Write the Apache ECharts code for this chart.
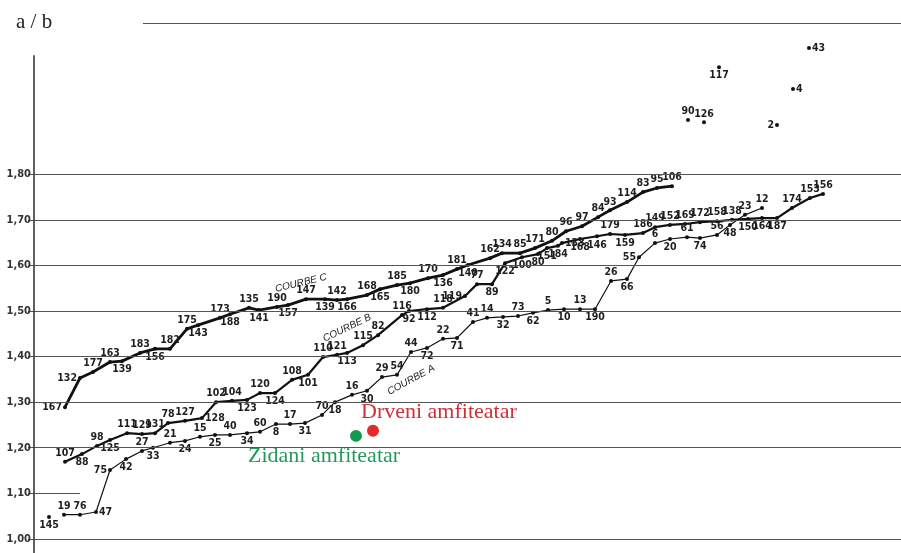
<!DOCTYPE html>
<html>
<head>
<meta charset="utf-8">
<title>a / b</title>
<script src="https://cdn.jsdelivr.net/npm/echarts@6/dist/echarts.min.js"></script>
<style>
  html, body { margin: 0; padding: 0; background: #fff; }
  #chart { width: 901px; height: 553px; }
</style>
</head>
<body>
<div id="chart"></div>
<script>
// each point: [number, position along x, a/b]
const curveA = [
  [19, 64, 1.053], [76, 80, 1.053], [47, 96, 1.059], [75, 110, 1.151], [42, 126, 1.175],
  [27, 142, 1.193], [33, 153, 1.200], [21, 170, 1.211], [24, 185, 1.215], [15, 200, 1.224],
  [25, 215, 1.228], [40, 230, 1.228], [34, 247, 1.232], [60, 260, 1.235], [8, 276, 1.252],
  [17, 290, 1.252], [31, 305, 1.254], [70, 322, 1.272], [18, 335, 1.300], [16, 352, 1.316],
  [30, 367, 1.325], [29, 382, 1.355], [54, 397, 1.360], [44, 411, 1.410], [72, 427, 1.419],
  [22, 443, 1.439], [71, 457, 1.441], [41, 473, 1.476], [14, 487, 1.485], [32, 503, 1.487],
  [73, 518, 1.489], [62, 533, 1.496], [5, 548, 1.502], [10, 564, 1.504], [13, 580, 1.504],
  [190, 595, 1.504], [26, 611, 1.566], [66, 627, 1.570], [55, 639, 1.618], [6, 655, 1.649],
  [20, 670, 1.658], [61, 687, 1.662], [74, 700, 1.660], [56, 717, 1.667], [48, 730, 1.689],
  [23, 745, 1.711], [12, 762, 1.726]
];
const curveASides = 'ttrlb tbtbt btbtb tbtbt btttb tbttb tbtbt btblt btbtb tt';

const curveB = [
  [107, 65, 1.169], [88, 82, 1.186], [98, 97, 1.204], [125, 110, 1.217], [111, 127, 1.232],
  [129, 142, 1.230], [131, 155, 1.232], [78, 168, 1.254], [127, 185, 1.259], [128, 202, 1.265],
  [102, 216, 1.300], [104, 232, 1.303], [123, 247, 1.305], [120, 260, 1.320], [124, 275, 1.320],
  [108, 292, 1.349], [101, 308, 1.360], [110, 323, 1.399], [121, 337, 1.404], [113, 347, 1.408],
  [115, 363, 1.425], [82, 378, 1.447], [116, 402, 1.491], [92, 409, 1.500], [112, 427, 1.504],
  [118, 443, 1.507], [119, 465, 1.533], [77, 477, 1.559], [89, 492, 1.559], [122, 505, 1.605],
  [100, 522, 1.618], [80, 538, 1.625], [151, 547, 1.638], [184, 558, 1.643], [133, 562, 1.649],
  [168, 580, 1.658], [146, 597, 1.664], [179, 610, 1.669], [159, 625, 1.667], [186, 643, 1.671],
  [149, 655, 1.684], [152, 670, 1.689], [169, 685, 1.691], [172, 700, 1.695], [158, 717, 1.697],
  [138, 732, 1.700], [150, 748, 1.702], [164, 762, 1.704], [187, 777, 1.704], [174, 792, 1.726],
  [153, 810, 1.748], [156, 823, 1.757]
];
const curveBSides = 'tbtbt tttt r ttbtb tbttb tttbb tltbb bbbbr bbtbt ttttt tbbbt tt';

const curveC = [
  [167, 65, 1.289], [132, 80, 1.353], [177, 93, 1.366], [163, 110, 1.388], [139, 122, 1.390],
  [183, 140, 1.408], [156, 155, 1.417], [182, 170, 1.417], [175, 187, 1.461], [143, 198, 1.469],
  [173, 220, 1.485], [188, 230, 1.493], [135, 249, 1.507], [141, 259, 1.502], [190, 277, 1.509],
  [157, 288, 1.513], [147, 306, 1.526], [139, 325, 1.526], [142, 337, 1.524], [166, 347, 1.526],
  [168, 367, 1.535], [165, 380, 1.548], [185, 397, 1.557], [180, 410, 1.561], [170, 428, 1.572],
  [136, 443, 1.579], [181, 457, 1.592], [140, 468, 1.601], [162, 490, 1.616], [134, 502, 1.627],
  [85, 520, 1.627], [171, 535, 1.638], [80, 552, 1.654], [96, 566, 1.675], [97, 582, 1.686],
  [84, 598, 1.706], [93, 610, 1.721], [114, 627, 1.739], [83, 643, 1.761], [95, 657, 1.770],
  [106, 672, 1.774]
];
const curveCSides = 'llttb tbttb tbtbt btbtb tbtbt btbtt ttttt ttttt t';

const isolated = [
  [145, 49, 1.048], [90, 688, 1.919], [126, 704, 1.914], [117, 719, 2.035],
  [2, 777, 1.908], [4, 793, 1.987], [43, 809, 2.077]
];
const isolatedSides = 'bttblrr';

const amphitheatres = [
  ['Drveni amfiteatar', 373, 1.237],
  ['Zidani amfiteatar', 356, 1.226]
];

const ratioTicks = [1.0, 1.1, 1.2, 1.3, 1.4, 1.5, 1.6, 1.7, 1.8];
const yMin = 0.969;
const yMax = 2.132;

const sideMap = { t: 'top', b: 'bottom', l: 'left', r: 'right' };
const numFont = '"Liberation Sans Narrow", "DejaVu Sans Condensed", "Liberation Sans", sans-serif';

function build(points, sides) {
  const s = sides.replace(/\s/g, '');
  if (s.length !== points.length) console.warn('sides mismatch', points.length, s.length);
  return points.map((p, i) => ({
    name: String(p[0]),
    value: [p[1], p[2]],
    label: { position: sideMap[s[i]] || 'top' }
  }));
}

const pointLabel = {
  show: true, formatter: '{b}', distance: 1,
  fontFamily: numFont, fontSize: 10.5, fontWeight: 'bold', color: '#1e1e1e'
};

function curve(name, points, sides, width) {
  return {
    type: 'line',
    name: name,
    data: build(points, sides),
    symbol: 'circle',
    symbolSize: 4,
    showAllSymbol: true,
    lineStyle: { color: '#111', width: width },
    itemStyle: { color: '#111' },
    label: pointLabel,
    z: 3
  };
}

// grid rules, axis line and top frame line
const rules = ratioTicks.map(v => [
  {
    coord: [28, v],
    label: {
      show: true, position: 'start', distance: -3,
      formatter: v.toFixed(2).replace('.', ','),
      fontFamily: numFont, fontSize: 11, fontWeight: 'bold', color: '#333',
      padding: [0, 0, 9, 0]
    }
  },
  { coord: [v === 1.1 ? 80 : 901, v] }
]);
rules.push([{ coord: [34, yMin], lineStyle: { width: 1.6, color: '#3a3a3a' } }, { coord: [34, 2.061] }]);
rules.push([{ coord: [143, yMax] }, { coord: [901, yMax] }]);

const courbeStyle = {
  fontFamily: '"Liberation Sans", sans-serif', fontStyle: 'italic', fontSize: 10,
  fill: '#1e1e1e', align: 'center', verticalAlign: 'middle'
};

const chart = echarts.init(document.getElementById('chart'));

chart.setOption({
  animation: false,
  backgroundColor: '#fff',
  title: {
    text: 'a / b', left: 11, top: 7,
    textStyle: { fontFamily: '"Liberation Serif", serif', fontSize: 21, fontWeight: 'normal', color: '#222' }
  },
  grid: { left: 0, right: 0, top: 23, bottom: 0 },
  xAxis: { type: 'value', min: 0, max: 901, show: false },
  yAxis: { type: 'value', min: yMin, max: yMax, show: false },
  graphic: [
    { type: 'text', x: 301, y: 283, rotation: 0.24, style: Object.assign({ text: 'COURBE C' }, courbeStyle) },
    { type: 'text', x: 347, y: 328, rotation: 0.45, style: Object.assign({ text: 'COURBE B' }, courbeStyle) },
    { type: 'text', x: 411, y: 380, rotation: 0.5, style: Object.assign({ text: 'COURBE A' }, courbeStyle) }
  ],
  series: [
    {
      type: 'scatter',
      name: 'rules',
      data: [],
      silent: true,
      z: 1,
      markLine: {
        silent: true,
        symbol: ['none', 'none'],
        animation: false,
        label: { show: false },
        lineStyle: { type: 'solid', color: '#555', width: 1.1 },
        emphasis: { disabled: true },
        data: rules
      }
    },
    curve('Courbe A', curveA, curveASides, 1.2),
    curve('Courbe B', curveB, curveBSides, 2.2),
    curve('Courbe C', curveC, curveCSides, 2.8),
    {
      type: 'scatter',
      name: 'isolated',
      data: build(isolated, isolatedSides),
      symbolSize: 4,
      itemStyle: { color: '#111', opacity: 1 },
      label: pointLabel,
      z: 3
    },
    {
      type: 'scatter',
      name: 'amphitheatres',
      symbolSize: 12,
      z: 4,
      itemStyle: { opacity: 1 },
      data: [
        {
          name: amphitheatres[0][0], value: [amphitheatres[0][1], amphitheatres[0][2]],
          itemStyle: { color: '#e02b2b', opacity: 1 },
          label: { position: [-6, -13], color: '#cf3038' }
        },
        {
          name: amphitheatres[1][0], value: [amphitheatres[1][1], amphitheatres[1][2]],
          itemStyle: { color: '#129a4e', opacity: 1 },
          label: { position: [-102, 26], color: '#27985a' }
        }
      ],
      label: {
        show: true, formatter: '{b}', align: 'left', verticalAlign: 'middle',
        fontFamily: '"Liberation Serif", serif', fontSize: 22
      }
    }
  ]
});
</script>
</body>
</html>
